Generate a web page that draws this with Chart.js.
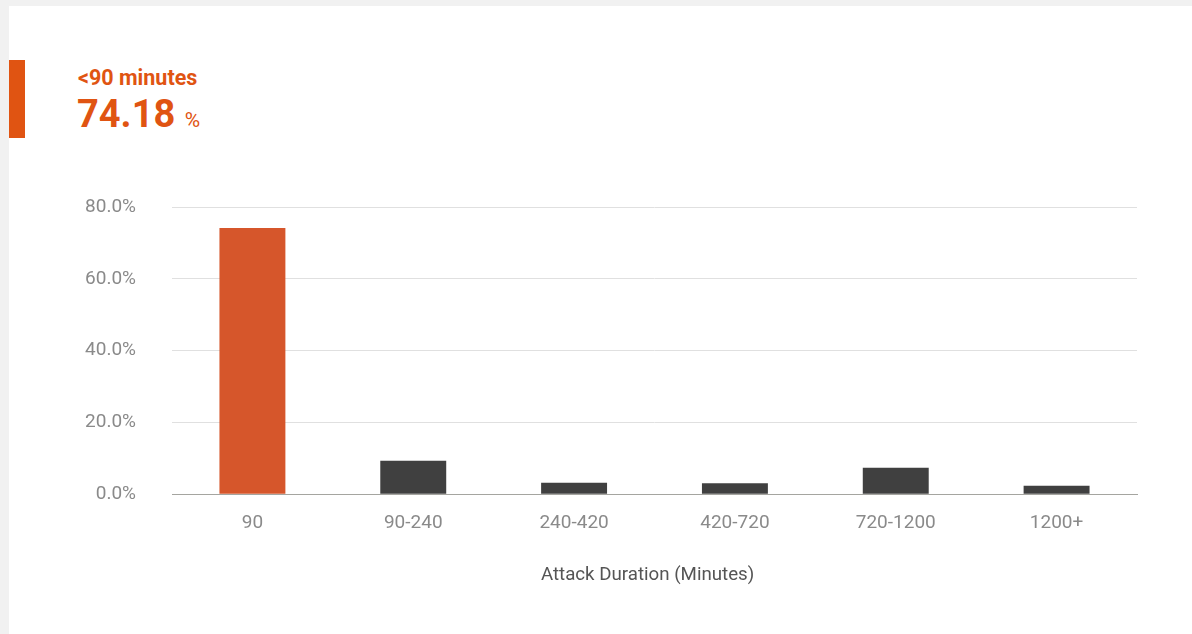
<!DOCTYPE html>
<html>
<head>
<meta charset="utf-8">
<script src="https://cdn.jsdelivr.net/npm/chart.js@4.4.0/dist/chart.umd.min.js"></script>
<style>
    html, body { margin: 0; padding: 0; }
    body {
        width: 1192px;
        height: 634px;
        background: #f1f1f1;
        font-family: Roboto, "Noto Sans", sans-serif;
        position: relative;
        overflow: hidden;
    }
    .card {
        position: absolute;
        left: 9px;
        top: 6px;
        right: -10px;
        bottom: -10px;
        background: #fff;
    }
    .marker {
        position: absolute;
        left: 9px;
        top: 60px;
        width: 16px;
        height: 78px;
        background: #e05412;
    }
    .label {
        position: absolute;
        left: 78px;
        top: 65px;
        color: #e05412;
        font-weight: 700;
        font-size: 21.5px;
        line-height: 26px;
    }
    .value {
        position: absolute;
        left: 77px;
        top: 92px;
        color: #e05412;
        font-weight: 700;
        font-size: 38px;
        line-height: 44px;
        white-space: nowrap;
    }
    .value span {
        font-weight: 400;
        font-size: 21px;
    }
    .chart-box {
        position: absolute;
        left: 0;
        top: 180px;
        width: 1192px;
        height: 454px;
    }
</style>
</head>
<body>
<div class="card"></div>
<div class="marker"></div>
<div class="label">&lt;90 minutes</div>
<div class="value">74.18 <span>%</span></div>
<div class="chart-box"><canvas id="durationChart"></canvas></div>

<script>
    // share of attacks per duration bucket, in percent
    const categories = ['90', '90-240', '240-420', '420-720', '720-1200', '1200+'];
    const shares = [74.18, 9.3, 3.2, 3.1, 7.4, 2.4];
    const yTicks = [0, 20, 40, 60, 80];

    const highlight = '#d6562b';
    const dark = '#404040';

    const ctx = document.getElementById('durationChart').getContext('2d');
    new Chart(ctx, {
        type: 'bar',
        data: {
            labels: categories,
            datasets: [{
                data: shares,
                backgroundColor: shares.map((v, i) => i === 0 ? highlight : dark),
                borderWidth: 0,
                barPercentage: 0.41,
                categoryPercentage: 1
            }]
        },
        options: {
            responsive: true,
            maintainAspectRatio: false,
            animation: false,
            layout: {
                padding: { top: 27, right: 55, bottom: 47.5, left: 0 }
            },
            plugins: {
                legend: { display: false },
                tooltip: { enabled: false }
            },
            scales: {
                x: {
                    grid: { display: false },
                    border: { color: '#a5a5a0', width: 1 },
                    ticks: {
                        color: '#8a8a8a',
                        font: { family: 'Roboto', size: 19 },
                        padding: 10
                    },
                    title: {
                        display: true,
                        // trailing spaces nudge the centred title a little to the left
                        text: 'Attack Duration (Minutes)   ',
                        color: '#555',
                        font: { family: 'Roboto', size: 18.7 },
                        padding: { top: 19, bottom: 0 }
                    }
                },
                y: {
                    min: 0,
                    max: 80,
                    afterFit: (scale) => { scale.width = 172; },
                    afterBuildTicks: (scale) => {
                        scale.ticks = yTicks.map(v => ({ value: v }));
                    },
                    grid: {
                        color: '#e0e0e0',
                        // invisible tick marks keep the labels clear of the plot
                        drawTicks: true,
                        tickLength: 36,
                        tickColor: 'rgba(0,0,0,0)'
                    },
                    border: { display: false },
                    ticks: {
                        color: '#8a8a8a',
                        font: { family: 'Roboto', size: 19 },
                        padding: 0,
                        callback: (v) => v.toFixed(1) + '%'
                    }
                }
            }
        }
    });
</script>
</body>
</html>
